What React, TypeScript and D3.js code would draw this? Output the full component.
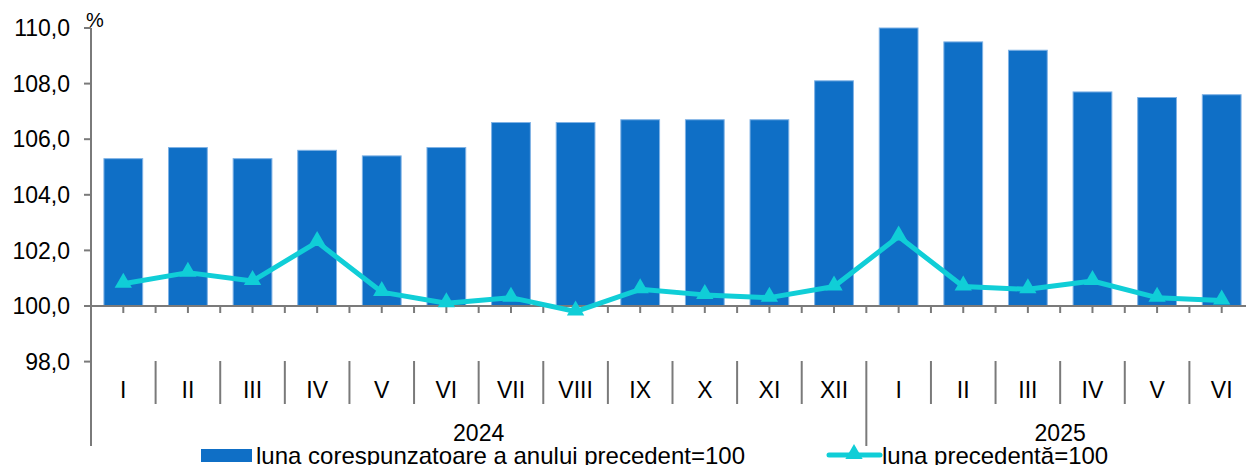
import * as d3 from "d3";
import { useEffect, useRef } from "react";

const months = ["I", "II", "III", "IV", "V", "VI", "VII", "VIII", "IX", "X", "XI", "XII", "I", "II", "III", "IV", "V", "VI"];
const years = [
  { label: "2024", from: 0, to: 12 },
  { label: "2025", from: 12, to: 18 },
];
// luna corespunzatoare a anului precedent = 100
const yearOnYear = [105.3, 105.7, 105.3, 105.6, 105.4, 105.7, 106.6, 106.6, 106.7, 106.7, 106.7, 108.1, 110.0, 109.5, 109.2, 107.7, 107.5, 107.6];
// luna precedenta = 100
const monthOnMonth = [100.8, 101.2, 100.9, 102.3, 100.5, 100.1, 100.3, 99.8, 100.6, 100.4, 100.3, 100.7, 102.5, 100.7, 100.6, 100.9, 100.3, 100.2];
const yTicks = [98, 100, 102, 104, 106, 108, 110];

const W = 1246;
const H = 465;
const FONT = "'Liberation Sans', Arial, sans-serif";
const BAR = "#0F6FC6";
const LINE = "#10CED7";
const AXIS = "#7a7a7a";

const App = () => {
  const ref = useRef<SVGSVGElement>(null);

  useEffect(() => {
    const svg = d3.select(ref.current);
    svg.selectAll("*").remove();

    const left = 91;
    const x = d3
      .scaleBand<number>()
      .domain(d3.range(months.length))
      .range([left, 1254])
      .paddingInner(0);
    const y = d3.scaleLinear().domain([98, 110]).range([361.6, 28]);
    const bw = x.bandwidth() * 0.6;
    const cx = (i: number) => (x(i) as number) + x.bandwidth() / 2;

    const g = svg.append("g").attr("font-family", FONT);

    // bars
    g.append("g")
      .selectAll("rect")
      .data(yearOnYear)
      .join("rect")
      .attr("x", (d, i) => cx(i) - bw / 2)
      .attr("width", bw)
      .attr("y", (d) => y(d))
      .attr("height", (d) => y(100) - y(d))
      .attr("fill", BAR)
      .attr("stroke", "#7FB2E5")
      .attr("stroke-width", 1);

    // y axis
    g.append("line")
      .attr("x1", left)
      .attr("x2", left)
      .attr("y1", y(110))
      .attr("y2", 446)
      .attr("stroke", AXIS)
      .attr("stroke-width", 2);

    const yt = g.append("g").selectAll("g").data(yTicks).join("g");
    yt.append("line")
      .attr("x1", left - 7)
      .attr("x2", left)
      .attr("y1", (d) => y(d))
      .attr("y2", (d) => y(d))
      .attr("stroke", AXIS)
      .attr("stroke-width", 2);
    yt.append("text")
      .attr("x", 70)
      .attr("y", (d) => y(d))
      .attr("dy", "0.36em")
      .attr("text-anchor", "end")
      .attr("font-size", 23)
      .text((d) => d3.format(".1f")(d).replace(".", ","));

    g.append("text")
      .attr("x", 86)
      .attr("y", 27)
      .attr("font-size", 20)
      .text("%");

    // x axis at 100
    g.append("line")
      .attr("x1", left)
      .attr("x2", W)
      .attr("y1", y(100))
      .attr("y2", y(100))
      .attr("stroke", AXIS)
      .attr("stroke-width", 2);

    const halfTicks = d3.range(1, months.length * 2).map((k) => left + (k * x.bandwidth()) / 2);
    g.append("g")
      .selectAll("line")
      .data(halfTicks)
      .join("line")
      .attr("x1", (d) => d)
      .attr("x2", (d) => d)
      .attr("y1", y(100))
      .attr("y2", y(100) + 7)
      .attr("stroke", AXIS)
      .attr("stroke-width", 2);

    // category separators
    g.append("g")
      .selectAll("line")
      .data(d3.range(1, months.length))
      .join("line")
      .attr("x1", (i) => x(i) as number)
      .attr("x2", (i) => x(i) as number)
      .attr("y1", 361)
      .attr("y2", (i) => (years.some((yr) => yr.from === i) ? 446 : 404))
      .attr("stroke", AXIS)
      .attr("stroke-width", 2);

    g.append("g")
      .selectAll("text")
      .data(months)
      .join("text")
      .attr("x", (d, i) => cx(i))
      .attr("y", 398)
      .attr("text-anchor", "middle")
      .attr("font-size", 23)
      .text((d) => d);

    g.append("g")
      .selectAll("text")
      .data(years)
      .join("text")
      .attr("x", (d) => ((x(d.from) as number) + (x(d.to - 1) as number) + x.bandwidth()) / 2)
      .attr("y", 441)
      .attr("text-anchor", "middle")
      .attr("font-size", 23)
      .text((d) => d.label);

    // line series
    const line = d3
      .line<number>()
      .x((d, i) => cx(i))
      .y((d) => y(d));
    g.append("path")
      .datum(monthOnMonth)
      .attr("d", line)
      .attr("fill", "none")
      .attr("stroke", LINE)
      .attr("stroke-width", 5)
      .attr("stroke-linejoin", "round");

    const tri = d3.symbol().type(d3.symbolTriangle).size(130);
    g.append("g")
      .selectAll("path")
      .data(monthOnMonth)
      .join("path")
      .attr("d", tri)
      .attr("transform", (d, i) => `translate(${cx(i)},${y(d) - 1})`)
      .attr("fill", LINE);

    // legend
    const lg = g.append("g").attr("font-size", 24);
    lg.append("rect").attr("x", 201).attr("y", 449).attr("width", 51).attr("height", 13).attr("fill", BAR);
    lg.append("text").attr("x", 256).attr("y", 464).text("luna corespunzatoare a anului precedent=100");
    lg.append("line")
      .attr("x1", 829)
      .attr("x2", 880)
      .attr("y1", 455)
      .attr("y2", 455)
      .attr("stroke", LINE)
      .attr("stroke-width", 5)
      .attr("stroke-linecap", "round");
    lg.append("path").attr("d", tri).attr("transform", "translate(854,454)").attr("fill", LINE);
    lg.append("text").attr("x", 882).attr("y", 464).text("luna precedentă=100");
  }, []);

  return (
    <svg
      ref={ref}
      width={W}
      height={H}
      style={{ position: "absolute", left: 0, top: 0, background: "#fff" }}
    />
  );
};

export default App;
